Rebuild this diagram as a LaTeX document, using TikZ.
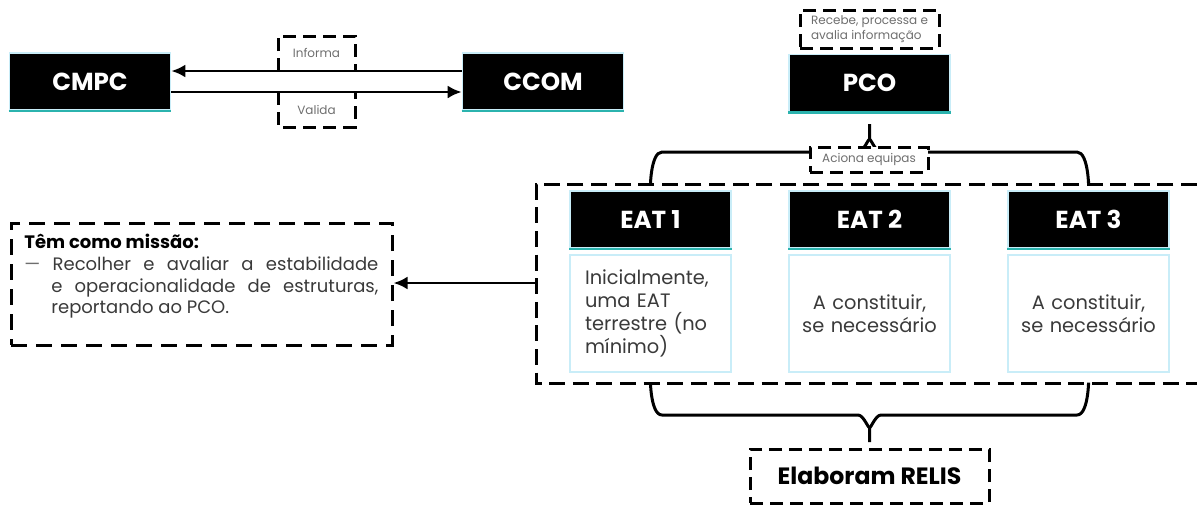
\documentclass[tikz,border=0pt]{standalone}
\usepackage{fontspec}
\setmainfont{Poppins}
\usepackage{xcolor}
\usetikzlibrary{arrows.meta}
\definecolor{edgeblue}{HTML}{C9EDF8}
\definecolor{edgeteal}{HTML}{2BB3AE}
\definecolor{labelgray}{HTML}{6E6E6E}
\definecolor{textgray}{HTML}{3A3A3A}
\tikzset{
  hdr/.style={draw=edgeblue, line width=0.8pt, fill=black, text=white,
    font=\fontsize{12.3}{14}\selectfont\bfseries,
    minimum width=80.5pt, minimum height=28.5pt, inner sep=0pt},
  body/.style={draw=edgeblue, line width=0.8pt, text=textgray,
    font=\fontsize{9.7}{11.4}\selectfont, text width=65.5pt,
    inner xsep=7.5pt, inner ysep=0pt, minimum height=58.5pt},
  bodywide/.style={body, text width=77pt, inner xsep=1.75pt, align=center},
  dashbox/.style={draw, line width=1.5pt, dash pattern=on 6.5pt off 3.5pt},
  dashline/.style={line width=1.5pt, dash pattern=on 8pt off 3.8pt},
  small/.style={text=labelgray, font=\fontsize{6}{7.5}\selectfont, inner sep=0pt},
  arr/.style={line width=1.4pt, -{Latex[length=7pt,width=6.5pt]}},
  brace/.style={line width=1.5pt},
  tealline/.style={draw=edgeteal, line width=1.2pt}
}
\begin{document}
\begin{tikzpicture}[x=0.5pt,y=-0.5pt]
  \useasboundingbox (0,0) rectangle (1197,504);
  %CMPC and CCOM
  \node[hdr] (cmpc) at (90,81.5) {CMPC};
  \node[hdr] (ccom) at (543,81.5) {CCOM};
  \draw[tealline] (cmpc.south west) -- (cmpc.south east);
  \draw[tealline] (ccom.south west) -- (ccom.south east);
  \draw[arr] ([yshift=5.25pt]ccom.west) -- ([yshift=5.25pt]cmpc.east);
  \draw[arr] ([yshift=-5.25pt]cmpc.east) -- ([yshift=-5.25pt]ccom.west);
  \draw[dashbox] (278,71) |- (355,36) -- (355,71);
  \node[small] (informa) at (316.5,53) {Informa};
  \draw[dashbox] (278,92) |- (355,127) -- (355,92);
  \node[small] (valida) at (316.5,110) {Valida};
  %PCO
  \node[dashbox, small, align=left, minimum width=69.5pt, minimum height=19pt] (recebe) at (869.5,29) {Recebe, processa e\\avalia informação};
  \node[hdr] (pco) at (869.5,83) {PCO};
  \draw[tealline] (pco.south west) -- (pco.south east);
  \draw[brace] (650.5,181) to[out=-90,in=180] (662,152) -- (858,152) to[out=0,in=90] (869.5,141) -- (869.5,124);
  \draw[brace] (1088.5,181) to[out=-90,in=0] (1077,152) -- (881,152) to[out=180,in=90] (869.5,141);
  \node[dashbox, small, fill=white, minimum width=59pt, minimum height=12.5pt] (aciona) at (869,159.5) {Aciona equipas};
  %EAT
  \draw[dashline] (1197,184) -- (536,184) -- (536,383) -- (1197,383);
  \coordinate (eatsW) at (536,283);
  \node[hdr] (eat1) at (650.5,219.5) {EAT 1};
  \node[hdr] (eat2) at (869.5,219.5) {EAT 2};
  \node[hdr] (eat3) at (1088.5,219.5) {EAT 3};
  \draw[tealline] (eat1.south west) -- (eat1.south east);
  \draw[tealline] (eat2.south west) -- (eat2.south east);
  \draw[tealline] (eat3.south west) -- (eat3.south east);
  \node[body, align=left] (txt1) at (650.5,313.5) {Inicialmente,\\uma EAT\\terrestre (no\\mínimo)};
  \node[bodywide] (txt2) at (869.5,313.5) {A constituir,\\se necessário};
  \node[bodywide] (txt3) at (1088.5,313.5) {A constituir,\\se necessário};
  %mission
  \node[dashbox, dash pattern=on 8pt off 4.5pt, minimum width=190.5pt, minimum height=61pt] (mission) at (201.5,284) {};
  \node[anchor=north west, text width=177pt, inner sep=0pt, align=justify, text=textgray, font=\fontsize{9}{10.8}\selectfont] (missiontxt) at (24,234)
    {\parindent=0pt\textcolor{black}{\bfseries Têm como missão:}\par
     \leftskip=13.5pt\noindent\hskip-13.5pt\textcolor{labelgray}{—}\ Recolher e avaliar a estabilidade\linebreak e operacionalidade de estruturas,\linebreak reportando ao PCO.\par};
  \draw[arr] (eatsW) -- (eatsW -| mission.east);
  %RELIS
  \draw[brace] (650.5,385) to[out=90,in=180] (662,415) -- (858,415) to[out=0,in=-90] (869.5,426) -- (869.5,442);
  \draw[brace] (1088.5,385) to[out=90,in=0] (1077,415) -- (881,415) to[out=180,in=-90] (869.5,426);
  \node[dashbox, font=\fontsize{11.8}{13}\selectfont\bfseries, minimum width=119.5pt, minimum height=27pt] (relis) at (869.5,476) {Elaboram RELIS};
\end{tikzpicture}
\end{document}
